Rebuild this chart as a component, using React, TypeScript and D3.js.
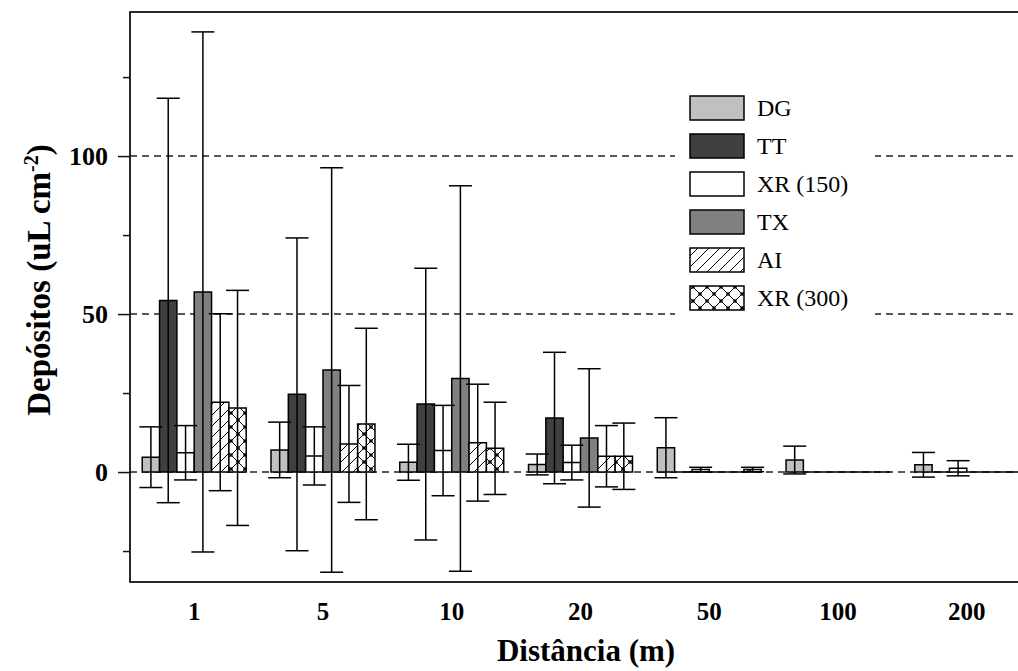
import React, { useEffect, useRef } from 'react';
import * as d3 from 'd3';

// distances (m) on the x axis
const distances = ['1', '5', '10', '20', '50', '100', '200'];
const seriesNames = ['DG', 'TT', 'XR (150)', 'TX', 'AI', 'XR (300)'];

// mean deposits (uL cm-2) per distance
const dgMean = [4.7, 7.0, 3.1, 2.4, 7.7, 3.8, 2.3];
const ttMean = [54.3, 24.6, 21.5, 17.1, 0, 0, 0];
const xr150Mean = [6.1, 5.1, 6.8, 3.0, 0.8, 0, 1.2];
const txMean = [57.0, 32.3, 29.6, 10.8, 0, 0, 0];
const aiMean = [22.1, 8.9, 9.3, 5.0, 0, 0, 0];
const xr300Mean = [20.3, 15.2, 7.5, 5.0, 0.8, 0, 0];

// standard deviations (error bars)
const dgErr = [9.6, 8.8, 5.7, 3.3, 9.5, 4.4, 3.9];
const ttErr = [64.0, 49.5, 43.0, 20.8, 0, 0, 0];
const xr150Err = [8.6, 9.2, 14.3, 5.5, 0.7, 0, 2.4];
const txErr = [82.3, 64.0, 61.0, 21.9, 0, 0, 0];
const aiErr = [28.0, 18.5, 18.5, 9.7, 0, 0, 0];
const xr300Err = [37.2, 30.3, 14.6, 10.5, 0.7, 0, 0];

const yMajorTicks = [0, 50, 100];
const yMinorTicks = [-25, 25, 75, 125];

const App = () => {
  const chartRef = useRef<SVGSVGElement>(null);

  useEffect(() => {
    const width = 1018;
    const height = 671;
    const margin = { top: 12, right: -13, bottom: 89, left: 130 };
    const serif = '"Liberation Serif", "Times New Roman", serif';

    const svg = d3.select(chartRef.current).attr('width', width).attr('height', height);
    svg.selectAll('*').remove();

    const means = [dgMean, ttMean, xr150Mean, txMean, aiMean, xr300Mean];
    const errs = [dgErr, ttErr, xr150Err, txErr, aiErr, xr300Err];
    const fills = ['#c0c0c0', '#404040', '#ffffff', '#808080', 'url(#hatch)', 'url(#cross)'];

    const x0 = d3
      .scaleBand()
      .domain(distances)
      .range([margin.left, width - margin.right])
      .paddingInner(0.1925)
      .paddingOuter(0.095);

    const x1 = d3.scaleBand().domain(seriesNames).range([0, x0.bandwidth()]);

    const y = d3
      .scaleLinear()
      .domain([-34.8, 145.6])
      .range([height - margin.bottom, margin.top]);

    // fill patterns
    const defs = svg.append('defs');
    const hatch = defs
      .append('pattern')
      .attr('id', 'hatch')
      .attr('patternUnits', 'userSpaceOnUse')
      .attr('width', 11)
      .attr('height', 11);
    hatch.append('rect').attr('width', 11).attr('height', 11).attr('fill', '#fff');
    hatch.append('path').attr('d', 'M-1,12 L12,-1 M-3,3 L3,-3 M8,14 L14,8').attr('stroke', '#000').attr('stroke-width', 1);

    const cross = defs
      .append('pattern')
      .attr('id', 'cross')
      .attr('patternUnits', 'userSpaceOnUse')
      .attr('width', 14)
      .attr('height', 14);
    cross.append('rect').attr('width', 14).attr('height', 14).attr('fill', '#fff');
    cross.append('path').attr('d', 'M0,0 L14,14 M14,0 L0,14').attr('stroke', '#000').attr('stroke-width', 1);
    cross.append('circle').attr('cx', 7).attr('cy', 7).attr('r', 1.8).attr('fill', '#000');
    [0, 14].forEach((cx) =>
      [0, 14].forEach((cy) => cross.append('circle').attr('cx', cx).attr('cy', cy).attr('r', 1.8).attr('fill', '#000'))
    );

    // dashed reference lines
    svg
      .selectAll('.grid')
      .data(yMajorTicks)
      .enter()
      .append('line')
      .attr('x1', margin.left)
      .attr('x2', width - margin.right)
      .attr('y1', (d) => y(d))
      .attr('y2', (d) => y(d))
      .attr('stroke', '#222')
      .attr('stroke-width', 1.5)
      .attr('stroke-dasharray', '7,5');

    // bars, one group per series
    seriesNames.forEach((name, s) => {
      const g = svg.append('g');
      const rows = distances.map((d, i) => ({ d, v: means[s][i], e: errs[s][i] }));

      g.selectAll('path')
        .data(rows)
        .enter()
        .append('path')
        .attr('d', (r) => {
          const bx = (x0(r.d) as number) + (x1(name) as number);
          return `M${bx},${y(0)}H${bx + x1.bandwidth()}V${y(r.v)}H${bx}Z`;
        })
        .attr('fill', fills[s])
        .attr('stroke', '#000')
        .attr('stroke-width', 1.5);
    });

    // error bars on top
    seriesNames.forEach((name, s) => {
      const rows = distances
        .map((d, i) => ({ d, v: means[s][i], e: errs[s][i] }))
        .filter((r) => r.e > 0);
      const cx = (r: { d: string }) => (x0(r.d) as number) + (x1(name) as number) + x1.bandwidth() / 2;
      const g = svg.append('g').attr('stroke', '#000').attr('stroke-width', 1.5);
      rows.forEach((r) => {
        g.append('line').attr('x1', cx(r)).attr('x2', cx(r)).attr('y1', y(r.v - r.e)).attr('y2', y(r.v + r.e));
        [r.v - r.e, r.v + r.e].forEach((yv) =>
          g
            .append('line')
            .attr('x1', cx(r) - 11.5)
            .attr('x2', cx(r) + 11.5)
            .attr('y1', y(yv))
            .attr('y2', y(yv))
        );
      });
    });

    // frame
    svg
      .append('rect')
      .attr('x', margin.left)
      .attr('y', margin.top)
      .attr('width', width - margin.right - margin.left)
      .attr('height', height - margin.bottom - margin.top)
      .attr('fill', 'none')
      .attr('stroke', '#111')
      .attr('stroke-width', 1.8);

    // Y axis
    const yAxis = svg
      .append('g')
      .attr('transform', `translate(${margin.left}, 0)`)
      .call(d3.axisLeft(y).tickValues(yMajorTicks).tickSize(12).tickPadding(10));
    yAxis.select('.domain').remove();
    yAxis.selectAll('line').attr('stroke', '#111').attr('stroke-width', 1.5);
    yAxis
      .selectAll('text')
      .style('font-family', serif)
      .style('font-size', '26px')
      .style('font-weight', 'bold')
      .attr('fill', '#000');

    const yMinor = svg
      .append('g')
      .attr('transform', `translate(${margin.left}, 0)`)
      .call(d3.axisLeft(y).tickValues(yMinorTicks).tickSize(7).tickFormat(() => ''));
    yMinor.select('.domain').remove();
    yMinor.selectAll('line').attr('stroke', '#111').attr('stroke-width', 1.5);

    // X axis labels
    const xAxis = svg
      .append('g')
      .attr('transform', `translate(0, ${height - margin.bottom})`)
      .call(d3.axisBottom(x0).tickSize(0).tickPadding(20));
    xAxis.select('.domain').remove();
    xAxis
      .selectAll('text')
      .style('font-family', serif)
      .style('font-size', '25px')
      .style('font-weight', 'bold')
      .attr('fill', '#000');

    // axis titles
    svg
      .append('text')
      .attr('x', 586)
      .attr('y', 661)
      .attr('text-anchor', 'middle')
      .style('font-family', serif)
      .style('font-size', '31px')
      .style('font-weight', 'bold')
      .text('Distância (m)');

    const yTitle = svg
      .append('text')
      .attr('transform', 'translate(50, 280) rotate(-90)')
      .attr('text-anchor', 'middle')
      .style('font-family', serif)
      .style('font-size', '33px')
      .style('font-weight', 'bold');
    yTitle.append('tspan').text('Depósitos (uL cm');
    yTitle.append('tspan').attr('dy', -12).style('font-size', '20px').text('-2');
    yTitle.append('tspan').attr('dy', 12).text(')');

    // legend
    const legend = svg.append('g');
    legend.append('rect').attr('x', 675).attr('y', 86).attr('width', 200).attr('height', 232).attr('fill', '#fff');
    seriesNames.forEach((name, s) => {
      const cy = 108 + s * 38;
      legend
        .append('rect')
        .attr('x', 690)
        .attr('y', cy - 12)
        .attr('width', 54)
        .attr('height', 24)
        .attr('fill', fills[s])
        .attr('stroke', '#000')
        .attr('stroke-width', 1.5);
      legend
        .append('text')
        .attr('x', 757)
        .attr('y', cy)
        .attr('dy', '0.35em')
        .style('font-family', serif)
        .style('font-size', '24px')
        .attr('fill', '#000')
        .text(name);
    });
  }, []);

  return <svg ref={chartRef} style={{ position: 'absolute', left: 0, top: 0 }}></svg>;
};

export default App;
